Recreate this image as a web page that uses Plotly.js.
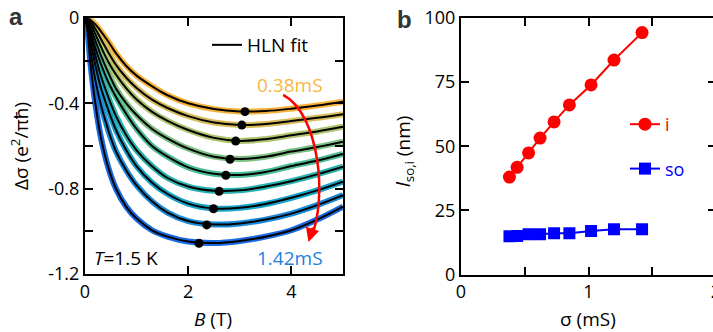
<!DOCTYPE html>
<html>
<head>
<meta charset="utf-8">
<script src="https://cdn.plot.ly/plotly-3.0.1.min.js"></script>
<style>
html,body{margin:0;padding:0;overflow:hidden;background:#fff;width:713px;height:332px;}
#chart{width:760px;height:332px;}
</style>
</head>
<body>
<div id="chart"></div>
<script>
// ---------- data: panel a (Δσ vs B) ----------
const fieldB = [0, 0.05, 0.1, 0.2, 0.3, 0.45, 0.6, 0.8, 1.0, 1.3, 1.6, 2.0, 2.5, 3.0, 3.5, 4.0, 4.5, 5.0];
const curve038 = [0, -0.002, -0.008, -0.03, -0.06, -0.11, -0.165, -0.225, -0.27, -0.32, -0.362, -0.40, -0.427, -0.438, -0.436, -0.425, -0.41, -0.392];
const curve044 = [0, -0.004, -0.015, -0.05, -0.095, -0.16, -0.22, -0.28, -0.328, -0.383, -0.422, -0.46, -0.49, -0.501, -0.497, -0.483, -0.468, -0.451];
const curve053 = [0, -0.006, -0.025, -0.075, -0.13, -0.205, -0.265, -0.33, -0.382, -0.44, -0.482, -0.525, -0.562, -0.576, -0.568, -0.55, -0.532, -0.510];
const curve062 = [0, -0.01, -0.04, -0.105, -0.17, -0.255, -0.33, -0.40, -0.455, -0.52, -0.565, -0.612, -0.65, -0.661, -0.65, -0.626, -0.605, -0.580];
const curve073 = [0, -0.015, -0.055, -0.14, -0.21, -0.30, -0.37, -0.45, -0.52, -0.60, -0.65, -0.70, -0.73, -0.736, -0.722, -0.694, -0.668, -0.637];
const curve085 = [0, -0.02, -0.07, -0.175, -0.265, -0.37, -0.46, -0.55, -0.62, -0.695, -0.75, -0.79, -0.81, -0.808, -0.79, -0.765, -0.733, -0.697];
const curve102 = [0, -0.03, -0.10, -0.22, -0.32, -0.43, -0.525, -0.62, -0.695, -0.772, -0.825, -0.87, -0.893, -0.89, -0.872, -0.843, -0.808, -0.767];
const curve120 = [0, -0.045, -0.14, -0.29, -0.40, -0.525, -0.625, -0.715, -0.785, -0.86, -0.912, -0.952, -0.968, -0.963, -0.945, -0.917, -0.877, -0.830];
const curve142 = [0, -0.065, -0.2, -0.40, -0.55, -0.70, -0.80, -0.885, -0.94, -0.995, -1.025, -1.048, -1.055, -1.045, -1.025, -0.995, -0.945, -0.884];
const curveColors = ['#F7B23B', '#D6BC5A', '#AEC36E', '#7DC182', '#4CBB98', '#2BB2B0', '#18A2C8', '#1C89D7', '#1A69E0'];
const minB = [3.10, 3.04, 2.92, 2.81, 2.73, 2.60, 2.49, 2.36, 2.21];
const minDs = [-0.439, -0.502, -0.577, -0.662, -0.737, -0.812, -0.894, -0.970, -1.056];

// ---------- data: panel b (l vs σ) ----------
const sigma = [0.38, 0.44, 0.53, 0.62, 0.73, 0.85, 1.02, 1.20, 1.42];
const lengthI = [38.0, 41.8, 47.4, 53.2, 59.5, 66.1, 73.9, 83.6, 94.3];
const lengthSO = [14.9, 15.0, 15.7, 15.7, 16.1, 16.1, 17.0, 17.6, 17.6];

const curves = [curve038, curve044, curve053, curve062, curve073, curve085, curve102, curve120, curve142];

const W = 760, H = 332;
const px = x => x / W;
const py = y => 1 - y / H;
const FONT = 'Open Sans, DejaVu Sans, sans-serif';

const traces = [];
curves.forEach((c, i) => {
  traces.push({x: fieldB, y: c, xaxis: 'x', yaxis: 'y', mode: 'lines', showlegend: false,
    line: {color: curveColors[i], width: 6, shape: 'spline', smoothing: 1}, hoverinfo: 'skip'});
});
curves.forEach((c, i) => {
  traces.push({x: fieldB, y: c, xaxis: 'x', yaxis: 'y', mode: 'lines', name: 'HLN fit',
    showlegend: i === 0, legend: 'legend',
    line: {color: '#000', width: 2, shape: 'spline', smoothing: 1}, hoverinfo: 'skip'});
});
traces.push({x: minB, y: minDs, xaxis: 'x', yaxis: 'y', mode: 'markers', showlegend: false,
  marker: {color: '#000', size: 9}, hoverinfo: 'skip'});

traces.push({x: sigma, y: lengthI, xaxis: 'x2', yaxis: 'y2', mode: 'lines+markers',
  name: '<span style="color:#FF0000">i</span>', legend: 'legend2', legendgroup: 'i',
  line: {color: '#FF0000', width: 2}, marker: {color: '#FF0000', size: 13, symbol: 'circle'}, hoverinfo: 'skip'});
traces.push({x: sigma, y: lengthSO, xaxis: 'x2', yaxis: 'y2', mode: 'lines+markers',
  name: '<span style="color:#0000FF">so</span>', legend: 'legend2', legendgroup: 'so',
  line: {color: '#0000FF', width: 2}, marker: {color: '#0000FF', size: 12, symbol: 'square'}, hoverinfo: 'skip'});

const axBase = {
  showline: true, linecolor: '#000', linewidth: 2, mirror: 'ticks',
  ticks: 'inside', ticklen: 8, tickwidth: 2, tickcolor: '#000',
  showgrid: false, zeroline: false, fixedrange: true,
  tickfont: {family: FONT, size: 18, color: '#000'}
};

function label(x, y, text, size, color, extra) {
  return Object.assign({xref: 'paper', yref: 'paper', x: px(x), y: py(y), xanchor: 'center', yanchor: 'middle',
    text: text, showarrow: false, font: {family: FONT, size: size, color: color}}, extra || {});
}

const layout = {
  width: W, height: H,
  margin: {l: 0, r: 0, t: 0, b: 0},
  paper_bgcolor: '#fff', plot_bgcolor: '#fff',
  font: {family: FONT, size: 18, color: '#000'},
  xaxis: Object.assign({}, axBase, {domain: [px(85), px(343)], range: [0, 5], tickvals: [0, 2, 4], anchor: 'y'}),
  yaxis: Object.assign({}, axBase, {domain: [py(274), py(18)], range: [-1.2, 0], tickvals: [0, -0.4, -0.8, -1.2],
    ticktext: ['0', '-0.4', '-0.8', '-1.2'], anchor: 'x',
    minor: {tickvals: [-0.2, -0.6, -1.0], ticks: 'inside', ticklen: 8, tickwidth: 2, tickcolor: '#000', showgrid: false}}),
  xaxis2: Object.assign({}, axBase, {domain: [px(461), px(716)], range: [0, 2], tickvals: [0, 1, 2], anchor: 'y2',
    minor: {tickvals: [0.5, 1.5], ticks: 'inside', ticklen: 8, tickwidth: 2, tickcolor: '#000', showgrid: false}}),
  yaxis2: Object.assign({}, axBase, {domain: [py(274.5), py(18)], range: [0, 100], tickvals: [0, 25, 50, 75, 100], anchor: 'x2'}),
  legend: {x: px(207), y: py(45), xanchor: 'left', yanchor: 'middle', bgcolor: 'rgba(0,0,0,0)',
    font: {family: FONT, size: 19, color: '#000'}},
  legend2: {x: px(625), y: py(106), xanchor: 'left', yanchor: 'top', bgcolor: 'rgba(0,0,0,0)',
    tracegroupgap: 18, font: {family: FONT, size: 18}},
  shapes: [
    {type: 'path', xref: 'x', yref: 'y', path: 'M 3.84,-0.36 C 4.55,-0.45 4.7,-0.85 4.38,-1.03',
      line: {color: '#FF0000', width: 2.5}}
  ],
  annotations: [
    {xref: 'x', yref: 'y', x: 4.33, y: -1.05, ax: 5, ay: -16, showarrow: true, text: '',
      arrowhead: 2, arrowsize: 1.1, arrowwidth: 2.5, arrowcolor: '#FF0000'},
    label(16, 17, '<b>a</b>', 24, '#333', {font: {family: 'Liberation Sans, Arial, sans-serif', size: 24, color: '#333'}}),
    label(404, 19, '<b>b</b>', 24, '#333', {font: {family: 'Liberation Sans, Arial, sans-serif', size: 24, color: '#333'}}),
    label(290, 85, '0.38mS', 19, '#F9B63F'),
    label(290, 258, '1.42mS', 19, '#1F7EE0'),
    label(92, 258, '<i>T</i>=1.5 K', 19, '#000', {xanchor: 'left'}),
    label(213, 319, '<i>B</i> (T)', 19, '#000'),
    label(20, 146, 'Δσ (e<sup>2</sup>/πħ)', 19, '#000', {textangle: -90}),
    label(588, 319, 'σ (mS)', 19, '#000'),
    label(404, 152, '<i>l</i><sub>so,i</sub> (nm)', 19, '#000', {textangle: -90})
  ]
};

Plotly.newPlot('chart', traces, layout, {staticPlot: true, displayModeBar: false});
</script>
</body>
</html>
